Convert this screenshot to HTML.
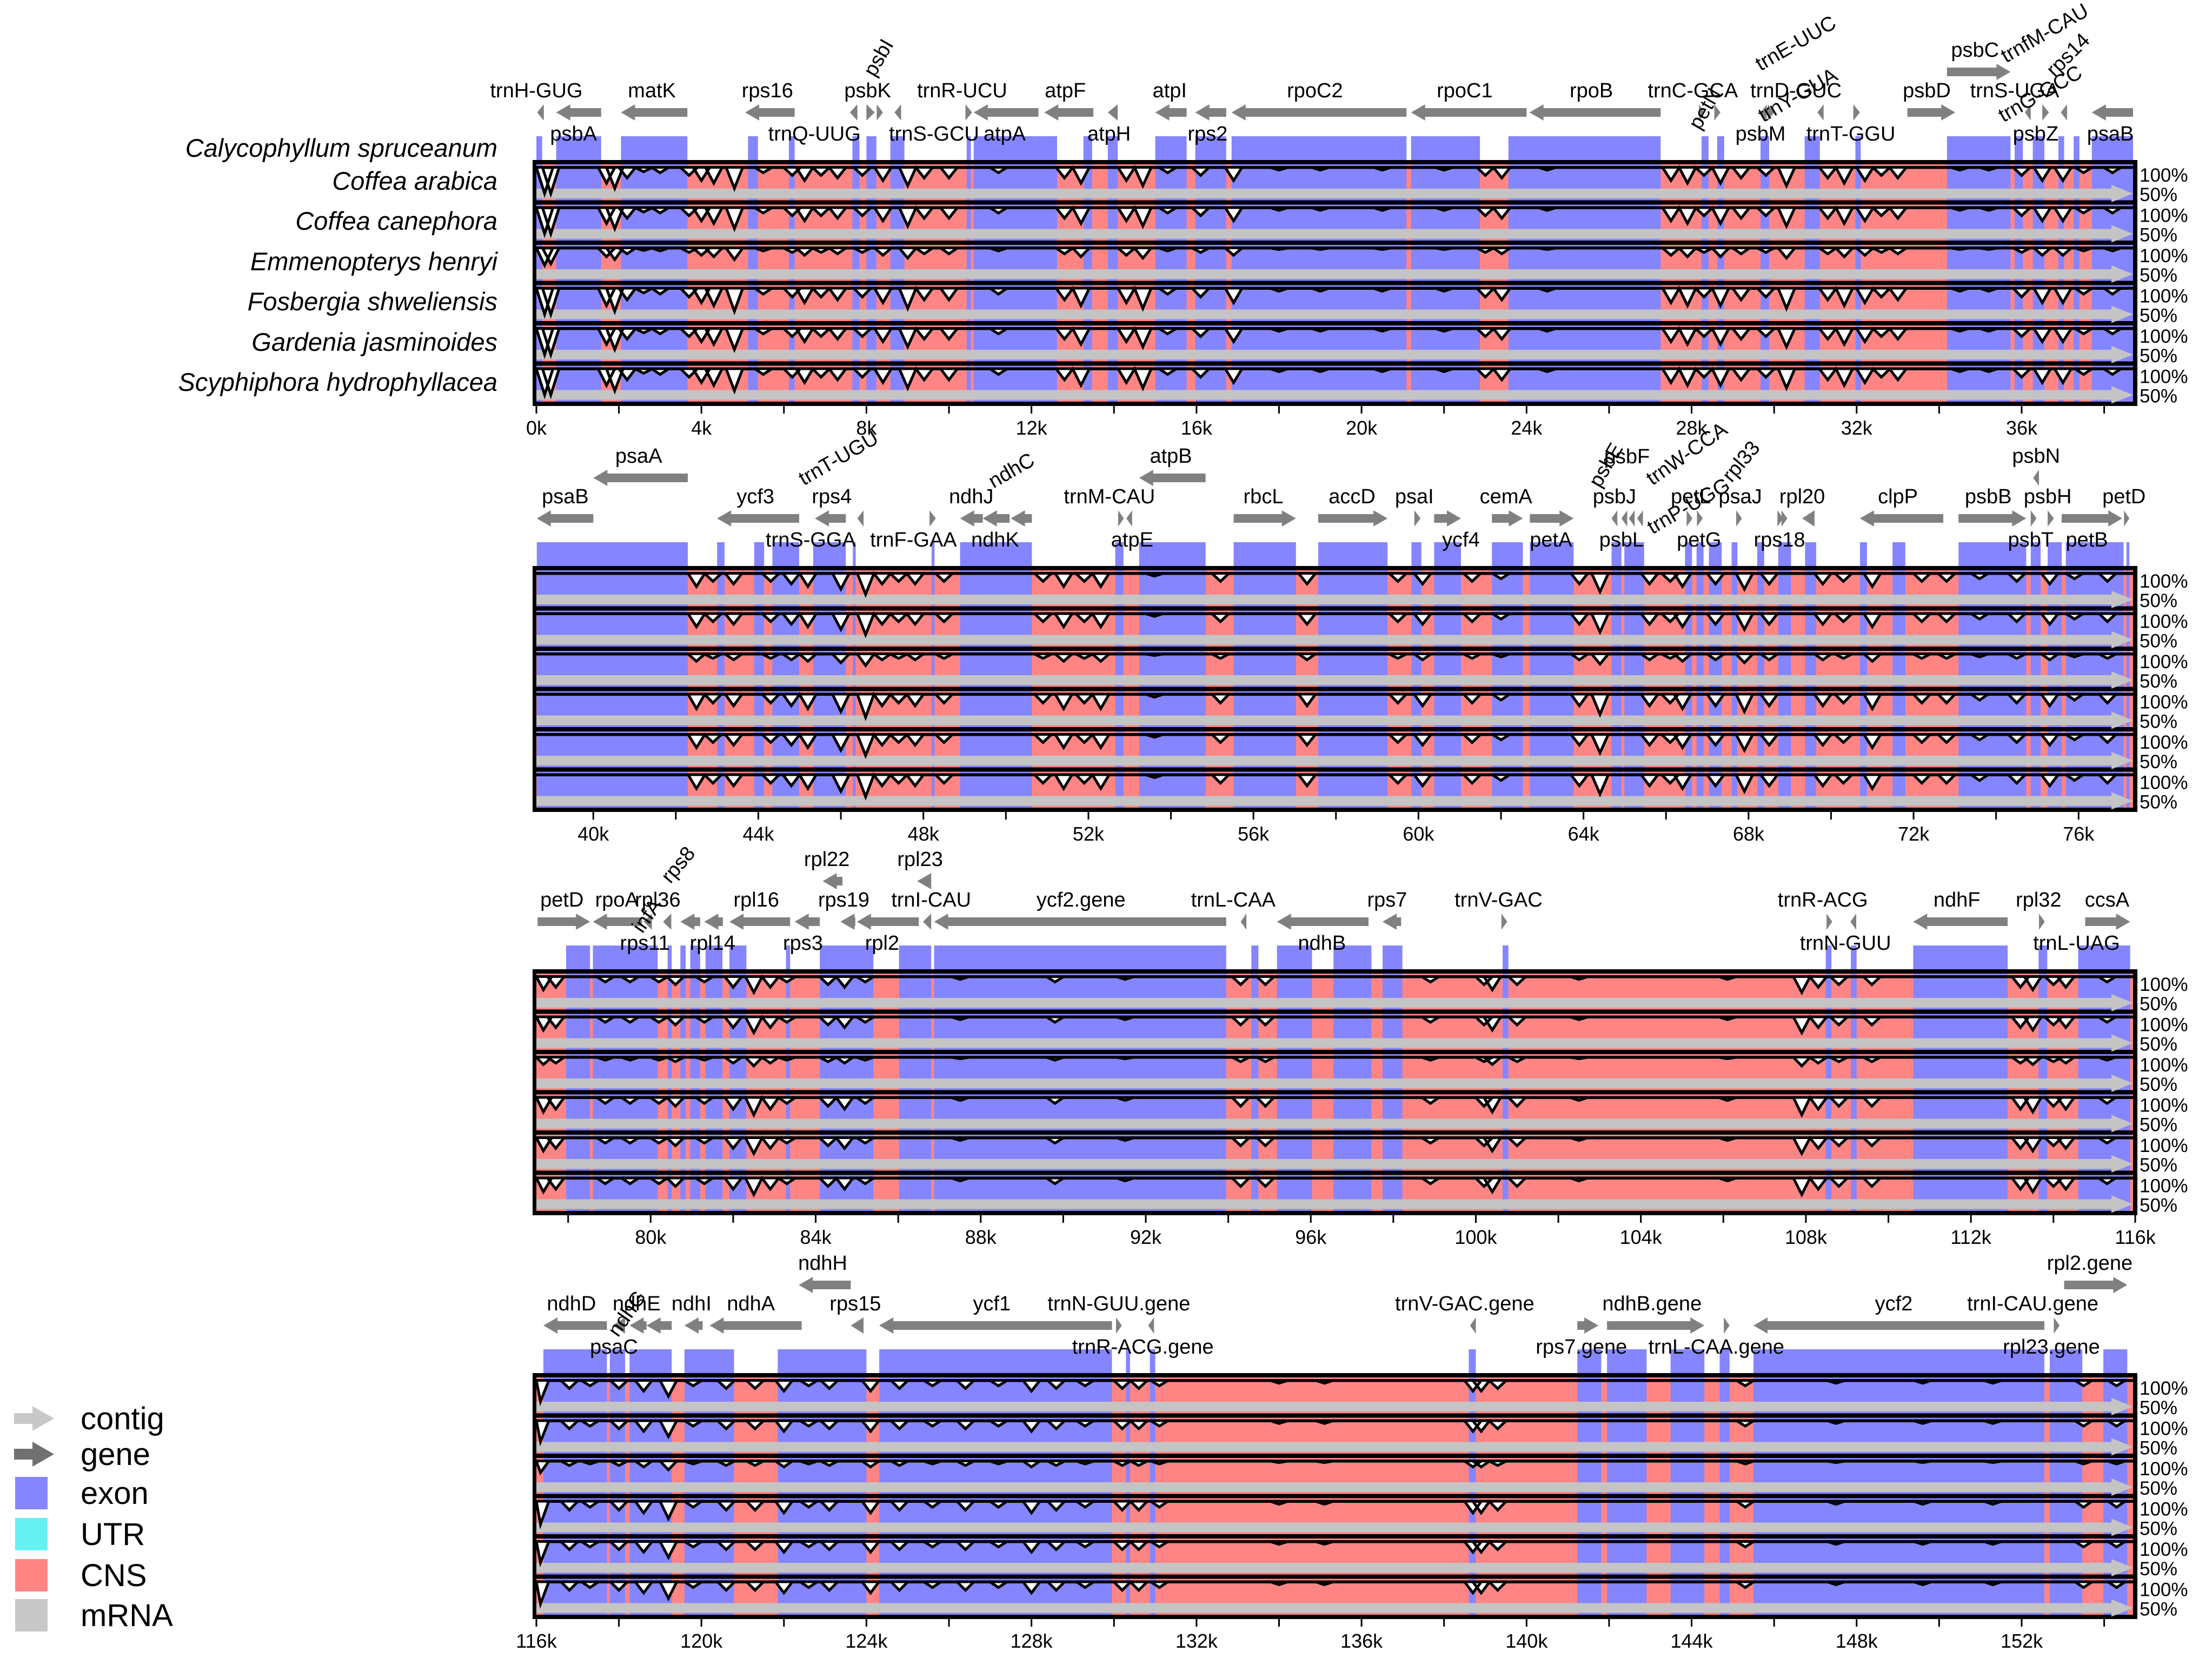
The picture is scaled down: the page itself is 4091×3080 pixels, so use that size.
<!DOCTYPE html>
<html><head><meta charset="utf-8">
<style>
html,body{margin:0;padding:0;background:#fff;}
svg{display:block;font-family:"Liberation Sans",sans-serif;}
</style></head>
<body>
<svg id="chart" width="4091" height="3080" viewBox="0 0 4091 3080" xmlns="http://www.w3.org/2000/svg">
<rect x="0" y="0" width="4091" height="3080" fill="#fff"/>
<g id="species" font-style="italic" font-size="47" text-anchor="end">
<text x="920" y="290">Calycophyllum spruceanum</text>
<text x="920" y="351">Coffea arabica</text>
<text x="920" y="425">Coffea canephora</text>
<text x="920" y="500">Emmenopterys henryi</text>
<text x="920" y="574">Fosbergia shweliensis</text>
<text x="920" y="649">Gardenia jasminoides</text>
<text x="920" y="723">Scyphiphora hydrophyllacea</text>
</g>
<g id="legend" font-size="58">
<g><polygon points="26,2614 60,2614 60,2601 100,2624 60,2647 60,2634 26,2634" fill="#c8c8c8"/><text x="149" y="2644">contig</text></g>
<g><polygon points="26,2680 60,2680 60,2667 100,2690 60,2713 60,2700 26,2700" fill="#707070"/><text x="149" y="2710">gene</text></g>
<g><rect x="28" y="2732" width="60" height="60" fill="#8585ff"/><text x="149" y="2782">exon</text></g>
<g><rect x="28" y="2808" width="60" height="60" fill="#66f0f0"/><text x="149" y="2858">UTR</text></g>
<g><rect x="28" y="2884" width="60" height="60" fill="#ff8585"/><text x="149" y="2934">CNS</text></g>
<g><rect x="28" y="2958" width="60" height="60" fill="#c8c8c8"/><text x="149" y="3008">mRNA</text></g>
</g>
<g id="panels"></g>
</svg>
<script>
// ---------- data ----------
const panelStarts = [0, 38.62, 77.23, 116.0];
const panelSpan = 38.7;
const rowDepth = [1.0, 1.0, 0.55, 1.1, 1.0, 1.05];

const exons1 = [[0,0.14],[0.48,1.57],[2.05,3.66],[5.13,5.37],[6.12,6.26],[7.66,7.83],[8.0,8.24],[8.58,8.92],[10.43,10.53],[10.6,12.62],[13.26,13.47],[13.85,14.09],[15.0,15.76],[15.97,16.72],[16.85,21.09],[21.2,22.87],[23.56,27.25],[28.24,28.41],[28.62,28.79],[29.67,29.88],[30.74,31.11],[31.97,32.1],[34.19,35.73],[35.83,36.03],[36.27,36.55],[36.89,37.03],[37.26,37.4],[37.7,38.7]];
const exons2 = [[38.63,42.29],[43.0,43.18],[43.9,44.14],[44.34,44.99],[45.33,46.12],[46.29,46.36],[48.2,48.27],[48.89,50.63],[52.65,52.85],[53.23,54.84],[55.52,57.03],[57.57,59.25],[59.83,60.07],[60.38,61.03],[61.78,62.53],[62.7,63.76],[64.68,64.92],[64.99,65.47],[66.46,66.63],[66.74,66.91],[67.04,67.35],[67.59,67.73],[68.21,68.38],[68.72,69.03],[69.37,69.64],[70.7,70.87],[71.49,71.8],[73.09,74.73],[74.84,75.08],[75.25,75.59],[75.69,77.09],[77.16,77.23]];
const exons3 = [[77.95,78.53],[78.6,80.17],[80.41,80.51],[80.72,80.85],[80.96,81.2],[81.33,81.74],[81.91,82.32],[83.28,83.38],[84.1,85.4],[86.02,86.8],[86.87,93.95],[94.56,94.73],[95.18,96.03],[96.55,97.47],[97.74,98.22],[100.65,100.79],[108.48,108.62],[109.09,109.23],[110.6,112.89],[113.64,113.85],[114.6,115.86]];
const exons4 = [[116.17,117.71],[117.78,118.15],[118.26,119.28],[119.59,120.79],[121.85,124.0],[124.31,129.95],[130.29,130.39],[130.87,131.0],[138.6,138.77],[141.23,141.81],[141.95,142.91],[143.49,144.31],[144.68,144.92],[145.5,152.55],[152.68,153.47],[153.98,154.56]];

const dips1 = [[0.2,60],[0.35,55],[1.7,30],[1.9,40],[2.2,20],[2.6,8],[3.0,10],[3.7,15],[4.0,25],[4.3,30],[4.8,40],[5.5,10],[6.2,15],[6.5,25],[6.9,15],[7.3,20],[7.9,15],[8.4,25],[9.0,35],[9.4,20],[10.0,20],[11.2,10],[12.8,20],[13.2,30],[14.3,25],[14.7,35],[15.3,10],[16.1,15],[16.9,25],[18,5],[19,5],[20.5,5],[22,5],[23,15],[23.4,20],[24.5,5],[27.5,25],[27.9,30],[28.3,15],[28.7,30],[29.2,20],[29.8,15],[30.3,35],[31.3,20],[31.7,30],[32.2,25],[32.6,15],[33.0,20],[34.5,5],[35.2,5],[36.0,15],[36.5,25],[37.0,25],[37.5,10],[38.2,10]];
const dips2 = [[42.5,25],[42.9,15],[43.4,20],[44.3,15],[44.8,20],[45.2,25],[46.0,30],[46.6,40],[47.0,20],[47.4,15],[47.8,20],[48.5,15],[50.9,15],[51.4,25],[51.9,15],[52.3,25],[53.6,5],[55.2,15],[57.3,20],[59.5,15],[60.1,20],[61.3,15],[62.0,10],[63.9,20],[64.4,35],[65.6,20],[66.1,15],[66.4,25],[67.2,20],[67.9,30],[68.5,20],[69.8,20],[70.3,15],[71.0,25],[72.2,15],[72.8,15],[73.6,10],[74.5,15],[75.3,20],[75.9,10],[76.7,15]];
const dips3 = [[77.4,25],[77.7,20],[78.9,10],[79.5,10],[80.2,10],[80.6,15],[81.3,10],[82.0,20],[82.5,30],[82.9,20],[83.3,10],[84.3,15],[84.7,20],[85.2,10],[87.5,5],[89.8,10],[91.5,5],[94.3,15],[94.9,15],[98.9,10],[100.2,15],[100.4,25],[101.0,15],[102.5,5],[106.1,5],[107.9,30],[108.3,20],[108.8,15],[109.6,15],[113.2,20],[113.5,25],[114.0,15],[114.3,20],[115.3,10]];
const dips4 = [[116.1,40],[116.8,15],[117.3,10],[118.0,15],[118.6,20],[119.2,30],[119.8,10],[120.6,15],[121.3,15],[122.0,20],[122.6,10],[123.1,15],[124.1,20],[124.8,15],[125.6,10],[126.4,15],[127.2,10],[128.0,20],[128.6,15],[129.3,10],[130.2,15],[130.6,15],[131.1,10],[134.0,5],[135.1,5],[138.7,20],[138.9,20],[139.3,15],[145.3,10],[147.5,5],[149.6,5],[151.3,5],[153.5,10],[154.3,10]];

const genes1 = [["trnH-GUG",0.02,0.18,-1,0,"a",0],["psbA",0.48,1.57,-1,0,"b",0.9],["matK",2.05,3.66,-1,0,"a",2.8],["rps16",5.06,6.26,-1,0,"a",5.6],["trnQ-UUG",7.6,7.78,-1,0,"b",6.74],["psbK",8.0,8.2,1,0,"a",8.03],["",8.25,8.4,1,0,"a",8.3],["trnS-GCU",8.68,8.84,-1,0,"b",9.64],["trnR-UCU",10.4,10.56,1,0,"a",10.32],["atpA",10.6,12.17,-1,0,"b",11.35],["atpF",12.31,13.5,-1,0,"a",12.82],["atpH",13.85,14.09,-1,0,"b",13.88],["atpI",15.0,15.76,-1,0,"a",15.35],["rps2",15.97,16.72,-1,0,"b",16.27],["rpoC2",16.85,21.09,-1,0,"a",18.87],["rpoC1",21.2,24.0,-1,0,"a",22.5],["rpoB",24.07,27.25,-1,0,"a",25.57],["trnC-GCA",28.18,28.32,1,0,"a",28.03],["",28.55,28.7,1,0,"a",28.6],["trnD-GUC",29.68,29.82,-1,0,"a",30.53],["psbM",29.85,30.0,1,0,"b",29.67],["",31.05,31.2,-1,0,"a",31.1],["trnT-GGU",31.92,32.08,1,0,"b",31.86],["psbD",33.23,34.39,1,0,"a",33.7],["psbC",34.19,35.73,1,1,"a",34.87],["trnS-UGA",36.08,36.22,-1,0,"a",35.83],["psbZ",36.5,36.66,1,0,"b",36.34],["",36.95,37.1,-1,0,"a",37.0],["psaB",37.7,38.7,-1,0,"b",38.15]];
const genes2 = [["psaB",38.63,40.0,-1,0,"a",39.32],["psaA",40.0,42.29,-1,1,"a",41.1],["ycf3",43.0,44.99,-1,0,"a",43.93],["rps4",45.37,46.12,-1,0,"a",45.78],["trnS-GGA",45.3,45.3,-1,0,"b",45.27],["",46.4,46.55,-1,0,"a",46.46],["trnF-GAA",48.15,48.3,1,0,"b",47.76],["ndhJ",48.89,49.44,-1,0,"a",49.16],["ndhK",49.44,50.09,-1,0,"b",49.74],["",50.12,50.63,-1,0,"a",50.3],["trnM-CAU",52.92,53.06,-1,0,"a",52.51],["atpE",52.72,52.86,1,0,"b",53.06],["atpB",53.23,54.84,-1,1,"a",54.0],["rbcL",55.52,57.03,1,0,"a",56.24],["accD",57.57,59.25,1,0,"a",58.39],["psaI",59.9,60.05,1,0,"a",59.9],["ycf4",60.38,61.03,1,0,"b",61.03],["cemA",61.78,62.53,1,0,"a",62.12],["petA",62.7,63.76,1,0,"b",63.21],["psbJ",64.68,64.82,-1,0,"a",64.75],["psbL",64.92,65.06,-1,0,"b",64.92],["",65.1,65.24,-1,0,"a",65.16],["",65.3,65.44,-1,0,"a",65.3],["petL",66.5,66.64,1,0,"a",66.6],["petG",66.75,66.89,1,0,"b",66.8],["psaJ",67.7,67.84,1,0,"a",67.8],["rps18",68.7,68.84,1,0,"b",68.75],["",68.8,68.94,1,0,"a",68.9],["rpl20",69.3,69.6,-1,0,"a",69.3],["clpP",70.7,72.72,-1,0,"a",71.62],["psbB",73.09,74.73,1,0,"a",73.81],["psbN",74.9,75.04,-1,1,"a",74.97],["psbT",74.84,74.98,1,0,"b",74.84],["psbH",75.25,75.4,1,0,"a",75.25],["petB",75.59,77.06,1,0,"b",76.2],["petD",77.1,77.23,1,0,"a",77.1]];
const genes3 = [["petD",77.26,78.53,1,0,"a",77.85],["rpoA",78.6,79.79,-1,0,"a",79.18],["rpl36",79.83,80.03,-1,0,"a",80.17],["rps11",80.3,80.5,-1,0,"b",79.86],["rpl14",80.72,81.2,-1,0,"b",81.5],["",81.3,81.75,-1,0,"a",81.5],["rpl16",81.91,83.38,-1,0,"a",82.56],["rps3",83.49,84.1,-1,0,"b",83.69],["rpl22",84.17,84.65,-1,1,"a",84.27],["rps19",84.6,84.96,-1,0,"a",84.68],["rpl2",85.0,86.5,-1,0,"b",85.61],["rpl23",86.46,86.8,-1,1,"a",86.53],["trnI-CAU",86.6,86.8,-1,0,"a",86.8],["ycf2.gene",86.87,93.95,-1,0,"a",90.43],["trnL-CAA",94.3,94.44,-1,0,"a",94.12],["ndhB",95.18,97.4,-1,0,"b",96.27],["rps7",97.74,98.19,-1,0,"a",97.85],["trnV-GAC",100.62,100.76,1,0,"a",100.55],["trnR-ACG",108.5,108.64,1,0,"a",108.41],["trnN-GUU",109.08,109.22,-1,0,"b",108.96],["ndhF",110.6,112.89,-1,0,"a",111.66],["rpl32",113.65,113.79,1,0,"a",113.64],["trnL-UAG",114.5,114.5,1,0,"b",114.56],["ccsA",114.77,115.86,1,0,"a",115.3]];
const genes4 = [["ndhD",116.17,117.71,-1,0,"a",116.85],["psaC",117.85,118.15,-1,0,"b",117.88],["ndhE",118.26,118.67,-1,0,"a",118.43],["",118.67,119.28,-1,0,"a",118.9],["ndhI",119.59,120.03,-1,0,"a",119.76],["ndhA",120.2,122.43,-1,0,"a",121.2],["ndhH",122.36,123.62,-1,1,"a",122.94],["rps15",123.62,123.93,-1,0,"a",123.73],["ycf1",124.31,129.95,-1,0,"a",127.04],["trnN-GUU.gene",130.05,130.19,1,0,"a",130.12],["trnR-ACG.gene",130.83,130.97,-1,0,"b",130.7],["trnV-GAC.gene",138.63,138.77,-1,0,"a",138.5],["rps7.gene",141.23,141.74,1,0,"b",141.33],["ndhB.gene",141.95,144.31,1,0,"a",143.04],["trnL-CAA.gene",144.78,144.92,1,0,"b",144.6],["ycf2",145.5,152.55,-1,0,"a",148.9],["trnI-CAU.gene",152.78,152.92,1,0,"a",152.27],["rpl23.gene",152.72,152.72,1,0,"b",152.72],["rpl2.gene",153.03,154.56,1,1,"a",153.65]];

const rot1 = [["psbI",8.2,-152,-60],["trnE-UUC",29.67,-164,-30],["trnfM-CAU",35.62,-179,-30],["rps14",36.8,-152,-45],["trnG-GCC",35.56,-69,-30],["petN",28.2,-54,-60],["trnY-GUA",29.74,-69,-30]];
const rot2 = [["trnT-UGU",45.1,-148,-30],["ndhC",49.7,-143,-30],["psbF",64.5,-190,0],["psbE",64.4,-143,-60],["trnW-CCA",65.67,-148,-35],["rpl33",67.59,-153,-50],["trnP-UGG",65.67,-58,-30]];
const rot3 = [["rps8",80.48,-157,-50],["infA",79.8,-65,-55]];
const rot4 = [["ndhG",117.98,-65,-55]];

const panelTops = [296, 1047, 1793, 2540];
const panelExons = [exons1, exons2, exons3, exons4];
const panelDips = [dips1, dips2, dips3, dips4];
const panelGenes = [genes1, genes2, genes3, genes4];
const panelRot = [rot1, rot2, rot3, rot4];

// ---------- drawing ----------
const NS = "http://www.w3.org/2000/svg";
const X0 = 992, X1 = 3945, PXK = (X1 - X0) / panelSpan;
const EXON = "#8585ff", CNS = "#ff8585", GRAY = "#c4c4c4";
const root = document.getElementById("panels");
function mk(tag, attrs, parent) {
  const e = document.createElementNS(NS, tag);
  for (const k in attrs) e.setAttribute(k, attrs[k]);
  parent.appendChild(e);
  return e;
}
for (let p = 0; p < 4; p++) {
  const T = panelTops[p], s = panelStarts[p], eK = s + panelSpan;
  const xs = k => X0 + (k - s) * PXK;
  const clampX = k => Math.max(X0, Math.min(X1, xs(k)));
  const g = mk("g", {}, root);
  
  
  const rib = mk("g", {}, g);
  
  
  panelExons[p].forEach(ex => {
    const a = clampX(ex[0]), b = clampX(ex[1]);
    if (b - a <= 0) return;
    const r = mk("rect", {x: a, y: T - 44, width: Math.max(b - a, 4), height: 44, fill: EXON}, rib);
    
    
  });
  const box = mk("rect", {x: 985, y: T, width: 2968, height: 455, fill: "#000"}, g);
  
  
  const rowH = 74.5;
  for (let r = 0; r < 6; r++) {
    const rt = T + r * rowH;
    const rg = mk("g", {}, g);
    
    
    const top = rt + 8, bot = rt + rowH;
    mk("rect", {x: X0, y: top, width: X1 - X0, height: bot - top, fill: CNS}, rg);
    panelExons[p].forEach(ex => {
      const a = clampX(ex[0]), b = clampX(ex[1]);
      if (b - a <= 0) return;
      const er = mk("rect", {x: a, y: top, width: Math.max(b - a, 4), height: bot - top, fill: EXON}, rg);
      
      
    });
    const bar = mk("polygon", {points: `${X0},${rt+53} ${X1-40},${rt+53} ${X1-40},${rt+46} ${X1},${rt+62} ${X1-40},${rt+78} ${X1-40},${rt+71} ${X0},${rt+71}`, fill: GRAY}, rg);
    
    
    const y100 = rt + 14;
    const yv = d => y100 + Math.min(d * rowDepth[r], 50) * 48 / 50;
    let path = `M${X0},${y100}`;
    const w = 0.2;
    panelDips[p].forEach(dp => {
      if (dp[0] < s || dp[0] > eK) return;
      path += ` L${clampX(dp[0]-w)},${y100} L${xs(dp[0])},${yv(dp[1])} L${clampX(dp[0]+w)},${y100}`;
    });
    path += ` L${X1},${y100}`;
    mk("path", {d: path + " Z", fill: "#fff"}, rg);
    const cv = mk("path", {d: path, fill: "none", stroke: "#000", "stroke-width": 5, "stroke-linejoin": "miter"}, rg);
    
    
    mk("rect", {x: X0, y: y100 - 3, width: X1 - X0, height: 5, fill: "#000"}, rg);
    const l1 = mk("text", {x: 3957, y: rt + 40, "font-size": 35}, rg);
    l1.textContent = "100%";
    
    
    const l2 = mk("text", {x: 3957, y: rt + 76, "font-size": 35}, rg);
    l2.textContent = "50%";
    
    
  }
  const ax = mk("g", {}, g);
  
  
  for (let k = Math.ceil(s / 2) * 2; k <= eK + 0.1; k += 2) {
    const x = Math.min(xs(k), X1 + 4);
    mk("rect", {x: x - 1.5, y: T + 455, width: 3, height: 14, fill: "#000"}, ax);
    if (k % 4 === 0) {
      const t = mk("text", {x: x, y: T + 508, "font-size": 36, "text-anchor": "middle"}, ax);
      t.textContent = k + "k";
      
      
    }
  }
  const gg = mk("g", {}, g);
  
  
  panelGenes[p].forEach(gn => {
    const [name, a0, b0, dir, tier, lp, lk] = gn;
    const ay = T - (tier ? 163 : 88);
    const a = clampX(a0), b = clampX(b0);
    if (b > a) {
      const hl = Math.min(26, b - a);
      let pts;
      if (dir > 0) pts = `${a},${ay-8} ${b-hl},${ay-8} ${b-hl},${ay-15} ${b},${ay} ${b-hl},${ay+15} ${b-hl},${ay+8} ${a},${ay+8}`;
      else pts = `${b},${ay-8} ${a+hl},${ay-8} ${a+hl},${ay-15} ${a},${ay} ${a+hl},${ay+15} ${a+hl},${ay+8} ${b},${ay+8}`;
      const ar = mk("polygon", {points: pts, fill: "#808080"}, gg);
      
      
    }
    if (name) {
      const ty = lp === "a" ? ay - 28 : ay + 52;
      const t = mk("text", {x: xs(lk), y: ty, "font-size": 38, "text-anchor": "middle"}, gg);
      t.textContent = name;
      
      
    }
  });
  panelRot[p].forEach(rl => {
    const x = xs(rl[1]), y = T + rl[2];
    const t = mk("text", {x: x, y: y, "font-size": 38, transform: `rotate(${rl[3]} ${x} ${y})`}, gg);
    t.textContent = rl[0];
    
    
  });
}
</script>
</body></html>
